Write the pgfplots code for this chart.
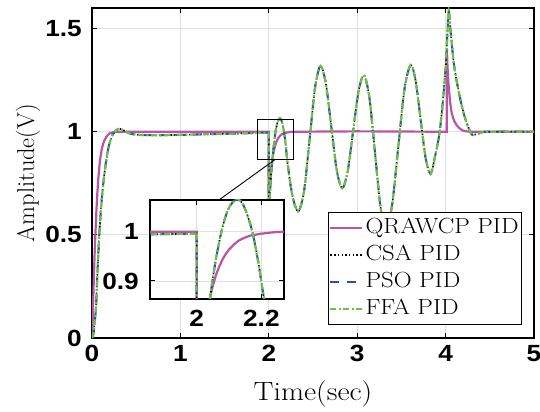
\documentclass[border=0pt]{standalone}
\usepackage{fontspec}
\setmainfont{Latin Modern Roman}[FakeStretch=1.13]
\newfontfamily\plainlm{Latin Modern Roman}
\usepackage{pgfplots}
\pgfplotsset{compat=1.18}
\usepackage{pgfplotstable}

\newfontfamily\tickfont{Liberation Sans}[FakeStretch=1.12]
\definecolor{qrcol}{RGB}{187,84,167}
\definecolor{psocol}{RGB}{45,80,165}
\definecolor{ffacol}{RGB}{108,190,69}
\definecolor{gridcol}{RGB}{224,224,224}

% QRAWCP PID response
\pgfplotstableread{
t y
0 0
0.005 0.05
0.01 0.12
0.015 0.20
0.02 0.28
0.025 0.345
0.03 0.41
0.038 0.50
0.045 0.57
0.052 0.635
0.06 0.70
0.07 0.765
0.083 0.83
0.095 0.875
0.11 0.915
0.125 0.94
0.14 0.957
0.16 0.974
0.18 0.985
0.2 0.992
0.235 0.997
0.3 1.0
2.0 1.0
2.0005 0.67
2.005 0.705
2.01 0.736
2.015 0.763
2.02 0.788
2.025 0.811
2.03 0.831
2.035 0.848
2.04 0.864
2.05 0.891
2.06 0.913
2.07 0.930
2.08 0.944
2.09 0.955
2.1 0.964
2.115 0.974
2.13 0.982
2.145 0.987
2.165 0.992
2.2 0.996
2.24 0.999
2.27 1.0
3.0 1.002
4.014 1.0
4.015 1.40
4.02 1.33
4.027 1.27
4.035 1.22
4.042 1.185
4.05 1.15
4.06 1.115
4.07 1.09
4.085 1.067
4.1 1.05
4.125 1.032
4.15 1.02
4.175 1.011
4.2 1.005
4.25 1.001
4.3 1.0
5.0 1.0
}\qrdata

% CSA / PSO / FFA PID responses (practically identical)
% the nan row splits the smoothed path at the step at t = 2
\pgfplotstableread{
t y
0 0
0.02 0.03
0.045 0.15
0.06 0.30
0.083 0.506
0.11 0.67
0.14 0.795
0.17 0.885
0.196 0.94
0.23 0.982
0.27 1.005
0.31 1.015
0.36 1.006
0.42 0.993
0.5 0.986
0.7 0.983
1.0 0.985
1.3 0.988
1.6 0.991
1.9 0.995
2.0 0.996
2.0 nan
2.0 0.996
2.0005 0.62
2.02 0.75
2.041 0.865
2.06 0.947
2.08 1.010
2.1 1.049
2.124 1.066
2.145 1.053
2.17 1.005
2.19 0.940
2.208 0.865
2.24 0.758
2.27 0.685
2.30 0.638
2.34 0.615
2.401 0.718
2.4625 0.967
2.524 1.216
2.585 1.319
2.646 1.232
2.7075 1.0225
2.769 0.813
2.83 0.726
2.8915 0.806
2.953 1.0
3.0145 1.194
3.076 1.274
3.138 1.165
3.2005 0.902
3.263 0.639
3.325 0.53
3.395 0.646
3.465 0.927
3.535 1.208
3.605 1.324
3.661 1.247
3.7175 1.06
3.774 0.873
3.83 0.796
3.88 0.88
3.93 0.99
3.97 1.15
4.0 1.31
4.02 1.47
4.035 1.59
4.06 1.47
4.10 1.31
4.17 1.15
4.23 1.053
4.29 0.99
4.32 0.985
4.38 0.992
4.47 1.0
5.0 1.0
}\optdata

\pgfplotsset{
  box/.style={
    scale only axis,
    axis line style={line width=1.2bp},
    grid=major,
    grid style={line width=0.8bp, gridcol},
    tick style={line width=1bp, black},
    major tick length=5bp,
    tick align=inside,
    ticklabel style={font=\tickfont\bfseries\fontsize{23.5}{24}\selectfont},
    /pgf/number format/assume math mode=true,
    unbounded coords=jump,
  },
  qr/.style={qrcol, line width=2.2bp},
  csa/.style={black, line width=1.6bp, dash pattern=on 1.5bp off 2.2bp, smooth},
  pso/.style={psocol, line width=2bp, dash pattern=on 9bp off 8bp, smooth},
  ffa/.style={ffacol, line width=2.2bp, dash pattern=on 6bp off 2.5bp on 2bp off 2.5bp, smooth},
}

\begin{document}
\begin{tikzpicture}
\begin{axis}[
    box, name=main,
    width=442bp, height=330bp,
    xmin=0, xmax=5, ymin=0, ymax=1.6,
    xtick={0,1,2,3,4,5},
    ytick={0,0.5,1,1.5},
    xticklabel style={anchor=north, inner sep=0pt, yshift=-7bp},
    yticklabel style={anchor=east, inner sep=0pt, xshift=-10bp},
    xlabel={Time(sec)}, ylabel={Amplitude(V)},
    xlabel style={font=\fontsize{26.5}{28}\selectfont,
        at={(axis description cs:0.5,-0.1697)}, anchor=center},
    ylabel style={font=\plainlm\fontsize{24.5}{28}\selectfont,
        at={(axis description cs:-0.1448,0.5)}, anchor=center},
    legend image code/.code={\draw[#1] (0bp,0bp) -- (32bp,0bp);},
    legend cell align=left,
    legend style={at={(0.9729,0.3818)}, anchor=north east,
        font=\fontsize{22}{24}\selectfont, draw=black, line width=0.8bp,
        inner xsep=1bp, inner ysep=2bp,
        nodes={inner sep=2bp, text height=17bp, text depth=6bp},
        row sep=0bp},
]
\addplot[qr] table {\qrdata};
\addplot[csa] table {\optdata};
\addplot[pso] table {\optdata};
\addplot[ffa] table {\optdata};
\legend{QRAWCP PID, CSA PID, PSO PID, FFA PID}
\draw[black, line width=0.9bp] (axis cs:1.867,0.865) rectangle (axis cs:2.282,1.058);
\draw[black, line width=0.9bp] (axis cs:2.07,0.865) -- (axis cs:1.429,0.667);
\end{axis}

\begin{axis}[
    box,
    at={(58bp,39bp)}, anchor=south west,
    width=134bp, height=99bp,
    xmin=1.8554, xmax=2.270, ymin=0.8635, ymax=1.0643,
    xtick={2,2.2}, ytick={0.9,1},
    xticklabel style={anchor=north, inner sep=0pt, yshift=-11bp},
    yticklabel style={anchor=east, inner sep=0pt, xshift=-11bp},
    axis background/.style={fill=white},
]
\addplot[qr] table {\qrdata};
\addplot[csa] table {\optdata};
\addplot[pso] table {\optdata};
\addplot[ffa] table {\optdata};
\end{axis}

\pgfresetboundingbox
\path[use as bounding box] ([xshift=-92bp,yshift=-74bp]main.south west) rectangle ([xshift=6bp,yshift=8bp]main.north east);
\end{tikzpicture}
\end{document}
